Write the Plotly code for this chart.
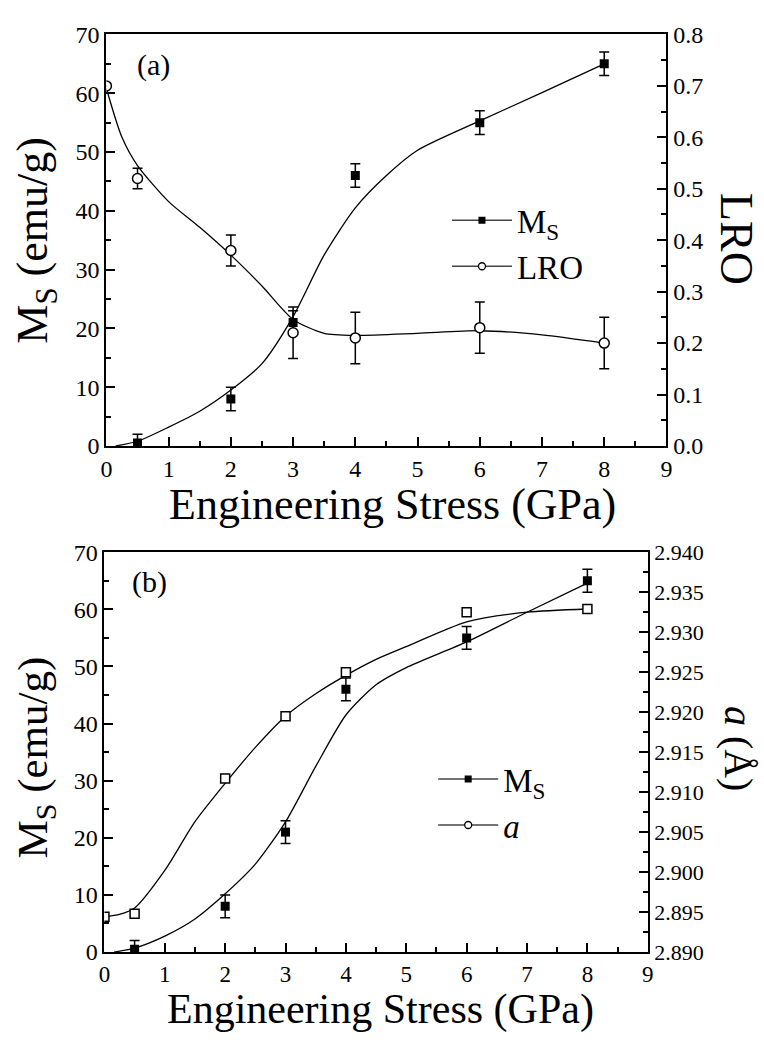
import plotly.graph_objects as go

# ---- measured data ----
ms_stress = [0.5, 2, 3, 4, 6, 8]
ms_values = [0.5, 8, 21, 46, 55, 65]
ms_error = [1.5, 2, 2, 2, 2, 2]

lro_stress = [0, 0.5, 2, 3, 4, 6, 8]
lro_values = [0.70, 0.52, 0.38, 0.22, 0.21, 0.23, 0.20]
lro_error = [None, 0.02, 0.03, 0.05, 0.05, 0.05, 0.05]

a_stress = [0, 0.5, 2, 3, 4, 6, 8]
a_values = [2.8944, 2.8948, 2.9117, 2.9195, 2.9250, 2.9325, 2.9329]

# ---- guide curves (smooth fits) ----
fit_ms_a_x = [0.15, 0.5, 1, 1.5, 2, 2.5, 3, 3.5, 4, 4.5, 5, 6, 7, 8]
fit_ms_a_y = [0, 0.8, 3.2, 5.9, 9.5, 14, 22, 32.5, 40.5, 46, 50.3, 55.3, 60.1, 65]

fit_lro_x = [0, 0.25, 0.5, 1, 1.5, 2, 2.5, 3, 3.5, 4, 5, 6, 7, 8]
fit_lro_y = [0.695, 0.60, 0.545, 0.475, 0.425, 0.371, 0.311, 0.246, 0.219,
             0.215, 0.219, 0.224, 0.216, 0.200]

fit_ms_b_x = [0.16, 0.5, 1, 1.5, 2, 2.5, 3, 3.5, 4, 4.5, 5, 6, 7, 8]
fit_ms_b_y = [0, 0.7, 2.8, 5.8, 10.2, 15.4, 22.8, 32.5, 41.5, 46.8, 49.8, 54.3, 59.5, 64.6]

fit_a_x = [0, 0.25, 0.5, 1, 1.5, 2, 2.5, 3, 3.5, 4, 4.5, 5, 6, 7, 8]
fit_a_y = [2.8944, 2.8947, 2.8955, 2.9002, 2.9063, 2.9111, 2.9156, 2.9195,
           2.9223, 2.9246, 2.9266, 2.9282, 2.9313, 2.9325, 2.9329]

FONT = "'Liberation Serif', 'Times New Roman', Times, serif"
W, H = 764, 1045


def px(p):
    return p / W


def py(p):
    return 1 - p / H


fig = go.Figure()

curve = dict(color="black", width=1.3, shape="spline", smoothing=0.7)
err_style = dict(type="data", visible=True, color="black", thickness=1.5, width=5)

# panel (a)
fig.add_trace(go.Scatter(x=fit_ms_a_x, y=fit_ms_a_y, mode="lines", line=curve,
                         xaxis="x", yaxis="y", showlegend=False, hoverinfo="skip"))
fig.add_trace(go.Scatter(x=fit_lro_x, y=fit_lro_y, mode="lines", line=curve,
                         xaxis="x", yaxis="y2", showlegend=False, hoverinfo="skip"))
fig.add_trace(go.Scatter(x=ms_stress, y=ms_values, mode="markers",
                         marker=dict(symbol="square", size=9, color="black"),
                         error_y=dict(array=ms_error, **err_style),
                         xaxis="x", yaxis="y", showlegend=False))
fig.add_trace(go.Scatter(x=lro_stress, y=lro_values, mode="markers",
                         marker=dict(symbol="circle", size=10, color="white",
                                     line=dict(color="black", width=1.5)),
                         error_y=dict(array=lro_error, **err_style),
                         xaxis="x", yaxis="y2", showlegend=False))

# panel (b)
fig.add_trace(go.Scatter(x=fit_ms_b_x, y=fit_ms_b_y, mode="lines", line=curve,
                         xaxis="x2", yaxis="y3", showlegend=False, hoverinfo="skip"))
fig.add_trace(go.Scatter(x=fit_a_x, y=fit_a_y, mode="lines", line=curve,
                         xaxis="x2", yaxis="y4", showlegend=False, hoverinfo="skip"))
fig.add_trace(go.Scatter(x=ms_stress, y=ms_values, mode="markers",
                         marker=dict(symbol="square", size=9, color="black"),
                         error_y=dict(array=ms_error, **err_style),
                         xaxis="x2", yaxis="y3", showlegend=False))
fig.add_trace(go.Scatter(x=a_stress, y=a_values, mode="markers",
                         marker=dict(symbol="square", size=9, color="white",
                                     line=dict(color="black", width=1.5)),
                         xaxis="x2", yaxis="y4", showlegend=False))

# legend entries
leg_line = dict(color="#444", width=1.5)
fig.add_trace(go.Scatter(x=[None], y=[None], mode="lines+markers", name="M<sub>S</sub>",
                         line=leg_line, marker=dict(symbol="square", size=7, color="black"),
                         xaxis="x", yaxis="y", legend="legend"))
fig.add_trace(go.Scatter(x=[None], y=[None], mode="lines+markers", name="LRO",
                         line=leg_line,
                         marker=dict(symbol="circle", size=7, color="white",
                                     line=dict(color="black", width=1.3)),
                         xaxis="x", yaxis="y", legend="legend"))
fig.add_trace(go.Scatter(x=[None], y=[None], mode="lines+markers", name="M<sub>S</sub>",
                         line=leg_line, marker=dict(symbol="square", size=7, color="black"),
                         xaxis="x2", yaxis="y3", legend="legend2"))
fig.add_trace(go.Scatter(x=[None], y=[None], mode="lines+markers", name="<i>a</i>",
                         line=leg_line,
                         marker=dict(symbol="circle", size=7, color="white",
                                     line=dict(color="black", width=1.3)),
                         xaxis="x2", yaxis="y3", legend="legend2"))

tickfont = dict(family=FONT, size=24, color="black")
common = dict(showline=True, linecolor="black", linewidth=2, ticks="inside",
              ticklen=9, tickwidth=2, tickcolor="black", showgrid=False,
              zeroline=False, tickfont=tickfont)

x_common = dict(common, range=[0, 9], dtick=1, tick0=0, mirror=True,
                minor=dict(dtick=0.5, ticks="inside", ticklen=5, tickwidth=2,
                           tickcolor="black"))

dom_a_x = [px(102), px(671)]
dom_a_y = [py(444), py(22)]
dom_b_x = [px(100), px(652)]
dom_b_y = [py(963), py(553)]

fig.update_layout(
    width=W, height=H,
    margin=dict(l=0, r=0, t=0, b=0),
    paper_bgcolor="white", plot_bgcolor="white",
    font=dict(family=FONT, color="black"),
    xaxis=dict(x_common, domain=dom_a_x, anchor="y"),
    yaxis=dict(common, domain=dom_a_y, anchor="x", range=[0, 70], dtick=10,
               minor=dict(dtick=5, ticks="inside", ticklen=5, tickwidth=2,
                          tickcolor="black")),
    yaxis2=dict(common, overlaying="y", side="right", anchor="x", range=[0, 0.8],
                dtick=0.1, tickformat=".1f",
                minor=dict(dtick=0.05, ticks="inside", ticklen=5, tickwidth=2,
                           tickcolor="black")),
    xaxis2=dict(x_common, domain=dom_b_x, anchor="y3",
                tickfont=dict(family=FONT, size=23, color="black")),
    yaxis3=dict(common, domain=dom_b_y, anchor="x2", range=[0, 70], dtick=10,
                minor=dict(dtick=5, ticks="inside", ticklen=5, tickwidth=2,
                           tickcolor="black")),
    yaxis4=dict(common, overlaying="y3", side="right", anchor="x2",
                range=[2.890, 2.940], dtick=0.005, tickformat=".3f",
                tickfont=dict(family=FONT, size=22, color="black"),
                minor=dict(dtick=0.0025, ticks="inside", ticklen=5, tickwidth=2,
                           tickcolor="black")),
    legend=dict(x=px(448), y=py(184), xanchor="left", yanchor="top",
                bgcolor="rgba(0,0,0,0)", font=dict(family=FONT, size=33),
                itemwidth=60, tracegroupgap=0),
    legend2=dict(x=px(434), y=py(757), xanchor="left", yanchor="top",
                 bgcolor="rgba(0,0,0,0)", font=dict(family=FONT, size=33),
                 itemwidth=60, tracegroupgap=0),
)

ann = []


def label(text, x, y, size, angle=0, xanchor="center", yanchor="middle"):
    ann.append(dict(text=text, x=px(x), y=py(y), xref="paper", yref="paper",
                    showarrow=False, textangle=angle, xanchor=xanchor,
                    yanchor=yanchor, font=dict(family=FONT, size=size, color="black")))


label("(a)", 131, 53, 30, xanchor="left")
label("(b)", 126, 584, 30, xanchor="left")
label("Engineering Stress (GPa)", 393, 504, 44)
label("Engineering Stress (GPa)", 380, 1022, 42)
label("M<sub>S</sub> (emu/g)", 30, 233, 44, angle=-90)
label("M<sub>S</sub> (emu/g)", 30, 764, 43, angle=-90)
label("LRO", 742, 232, 46, angle=90)
label("<i>a</i> (Å)", 744, 755, 40, angle=90)

fig.update_layout(annotations=ann)

fig.write_html("out.html")
